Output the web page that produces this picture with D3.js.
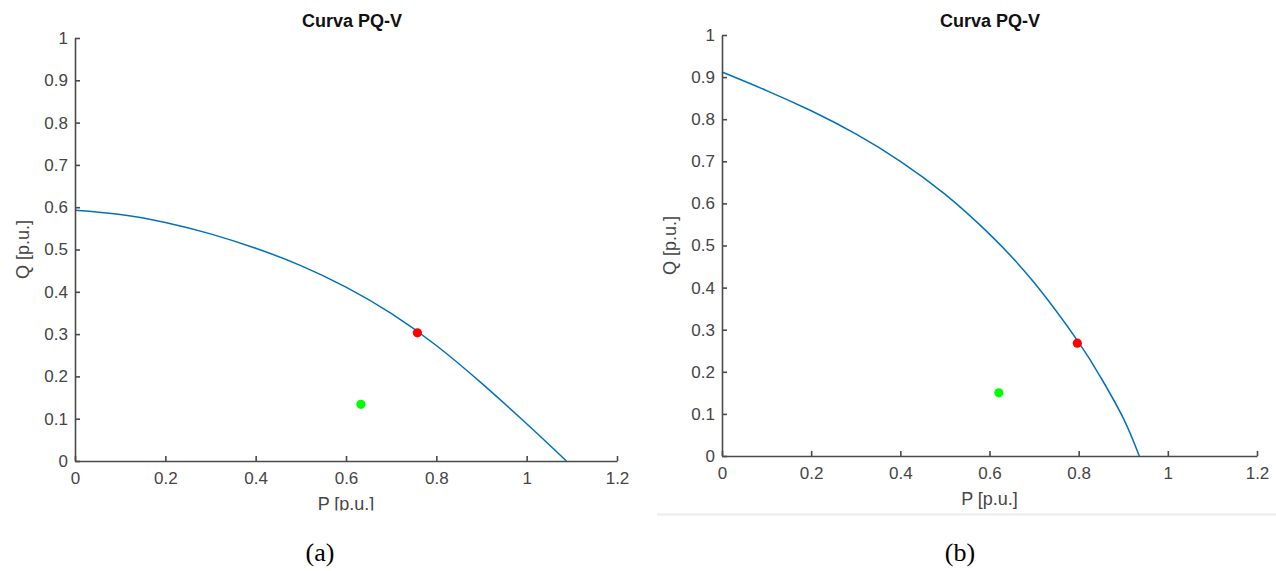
<!DOCTYPE html>
<html>
<head>
<meta charset="utf-8">
<script src="https://cdn.jsdelivr.net/npm/d3@7"></script>
<style>
  body { margin: 0; background: #fff; }
  svg { display: block; }
</style>
</head>
<body>
<svg id="chart" width="1276" height="571"></svg>
<script>
// 数据：PQ-V 曲线点
const curveP_a = [0, 0.1, 0.2, 0.3, 0.4, 0.5, 0.6, 0.7, 0.8, 0.9, 1.0, 1.088];
const curveQ_a = [0.593, 0.583, 0.564, 0.537, 0.503, 0.462, 0.411, 0.349, 0.273, 0.184, 0.088, 0];
const curveP_b = [0, 0.1, 0.2, 0.3, 0.4, 0.5, 0.6, 0.7, 0.8, 0.85, 0.9, 0.936];
const curveQ_b = [0.912, 0.868, 0.820, 0.765, 0.700, 0.622, 0.527, 0.412, 0.270, 0.186, 0.090, 0];

// 运行点：红色（曲线上）和绿色
const redPoint_a = [0.758, 0.303];
const greenPoint_a = [0.633, 0.134];
const redPoint_b = [0.797, 0.268];
const greenPoint_b = [0.621, 0.150];

// 刻度
const xTicks = [0, 0.2, 0.4, 0.6, 0.8, 1, 1.2];
const yTicks = [0, 0.1, 0.2, 0.3, 0.4, 0.5, 0.6, 0.7, 0.8, 0.9, 1];

const titleText = 'Curva PQ-V';
const xLabelText = 'P [p.u.]';
const yLabelText = 'Q [p.u.]';
const captions = ['(a)', '(b)'];

const svg = d3.select('#chart');

// 面板位置
const panels = [
  { left: 75, right: 617, top: 38, bottom: 461, titleX: 352, clipBottom: 510.5,
    P: curveP_a, Q: curveQ_a, red: redPoint_a, green: greenPoint_a, caption: captions[0], capX: 320 },
  { left: 722, right: 1257, top: 35, bottom: 456, titleX: 990, clipBottom: 571,
    P: curveP_b, Q: curveQ_b, red: redPoint_b, green: greenPoint_b, caption: captions[1], capX: 960 }
];

const axisColor = '#4a4a4a';
const tickTextColor = '#454545';
const font = '"Liberation Sans", Arial, sans-serif';

panels.forEach((p, i) => {
  const clipId = 'clip-' + i;
  svg.append('defs').append('clipPath')
    .attr('id', clipId)
    .append('rect')
    .attr('x', 0).attr('y', 0)
    .attr('width', 1276).attr('height', p.clipBottom);

  const g = svg.append('g').attr('clip-path', `url(#${clipId})`);

  const x = d3.scaleLinear().domain([0, 1.2]).range([p.left, p.right]);
  const y = d3.scaleLinear().domain([0, 1]).range([p.bottom, p.top]);

  // 曲线
  const pts = p.P.map((v, k) => [v, p.Q[k]]);
  const line = d3.line()
    .x(d => x(d[0]))
    .y(d => y(d[1]))
    .curve(d3.curveNatural);

  g.append('path')
    .datum(pts)
    .attr('d', line)
    .attr('fill', 'none')
    .attr('stroke', '#0072BD')
    .attr('stroke-width', 1.5);

  // X 轴（刻度向内）
  g.append('g')
    .attr('transform', `translate(0,${p.bottom})`)
    .call(d3.axisBottom(x)
      .tickValues(xTicks)
      .tickFormat(d3.format('~g'))
      .tickSizeInner(-5)
      .tickSizeOuter(0)
      .tickPadding(11))
    .call(ax => {
      ax.select('.domain').attr('stroke', axisColor).attr('stroke-width', 1.6);
      ax.selectAll('.tick line').attr('stroke', axisColor).attr('stroke-width', 1.6);
      ax.selectAll('.tick text')
        .attr('fill', tickTextColor)
        .style('font-family', font)
        .style('font-size', '17px');
    });

  // Y 轴
  g.append('g')
    .attr('transform', `translate(${p.left},0)`)
    .call(d3.axisLeft(y)
      .tickValues(yTicks)
      .tickFormat(d3.format('~g'))
      .tickSizeInner(-5)
      .tickSizeOuter(0)
      .tickPadding(7))
    .call(ax => {
      ax.select('.domain').attr('stroke', axisColor).attr('stroke-width', 1.6);
      ax.selectAll('.tick line').attr('stroke', axisColor).attr('stroke-width', 1.6);
      ax.selectAll('.tick text')
        .attr('fill', tickTextColor)
        .style('font-family', font)
        .style('font-size', '17px');
    });

  // 点
  g.append('circle')
    .attr('cx', x(p.green[0])).attr('cy', y(p.green[1]))
    .attr('r', 4.6).attr('fill', '#00ff00');
  g.append('circle')
    .attr('cx', x(p.red[0])).attr('cy', y(p.red[1]))
    .attr('r', 4.6).attr('fill', '#ff0000');

  // 标题
  g.append('text')
    .attr('x', p.titleX).attr('y', 27)
    .attr('text-anchor', 'middle')
    .style('font-family', font)
    .style('font-size', '18px')
    .style('font-weight', 'bold')
    .attr('fill', '#111')
    .text(titleText);

  // 轴标题
  g.append('text')
    .attr('x', (p.left + p.right) / 2)
    .attr('y', p.bottom + 49)
    .attr('text-anchor', 'middle')
    .style('font-family', font)
    .style('font-size', '18px')
    .attr('fill', tickTextColor)
    .text(xLabelText);

  g.append('text')
    .attr('transform', `translate(${p.left - 46.5},${(p.top + p.bottom) / 2}) rotate(-90)`)
    .attr('text-anchor', 'middle')
    .style('font-family', font)
    .style('font-size', '18px')
    .attr('fill', tickTextColor)
    .text(yLabelText);

  // 子图标签
  svg.append('text')
    .attr('x', p.capX).attr('y', 561)
    .attr('text-anchor', 'middle')
    .style('font-family', '"Liberation Serif", "Times New Roman", serif')
    .style('font-size', '26px')
    .attr('fill', '#000')
    .text(p.caption);
});

// 右图下方的浅灰分隔线
svg.append('line')
  .attr('x1', 657).attr('x2', 1276)
  .attr('y1', 514.5).attr('y2', 514.5)
  .attr('stroke', '#ececec')
  .attr('stroke-width', 2);
</script>
</body>
</html>
